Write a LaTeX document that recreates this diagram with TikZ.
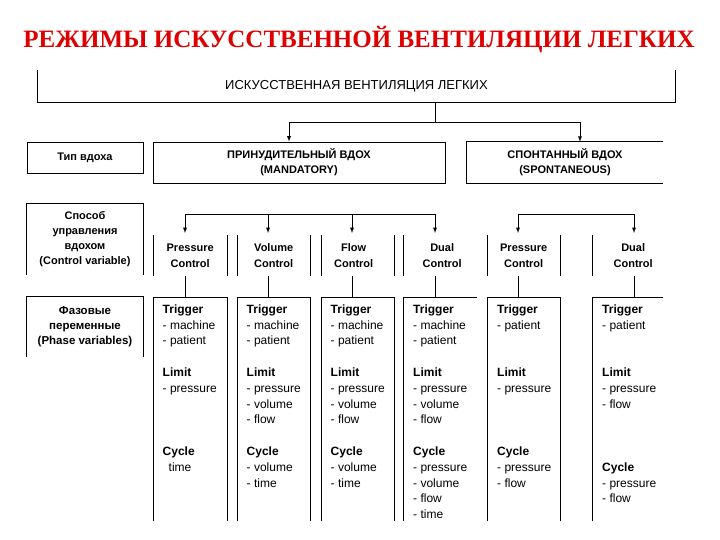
\documentclass[tikz,border=0pt]{standalone}
\usepackage{fontspec}
\setmainfont{Liberation Sans}
\newfontfamily\ttlfont{Liberation Serif}
\usetikzlibrary{positioning,calc,arrows}
\definecolor{ttlred}{RGB}{222,0,0}

\begin{document}
\begin{tikzpicture}[x=1pt,y=-1pt,>=latex,
    bdr/.style={black,line width=0.9pt},
    hdr/.style={font=\fontsize{11}{15}\selectfont\bfseries,align=center,inner sep=0pt},
    ctl/.style={font=\fontsize{11}{16}\selectfont\bfseries,align=center,inner sep=0pt,minimum height=41pt,anchor=north west},
    phs/.style={font=\fontsize{12}{15.8}\selectfont,align=left,inner sep=0pt},
    col/.style={inner sep=0pt,minimum height=224pt,anchor=north west} ]
    \useasboundingbox (0,0) rectangle (720,540);
    \fill[white] (0,0) rectangle (720,540);
    \node [font=\ttlfont\fontsize{25}{25}\selectfont\bfseries,text=ttlred,inner sep=0pt] (title) at (359,40) {РЕЖИМЫ ИСКУССТВЕННОЙ ВЕНТИЛЯЦИИ ЛЕГКИХ};
    \node [font=\fontsize{13}{13}\selectfont,minimum width=637pt,minimum height=32pt,inner sep=0pt] (ivl) at (356.5,86) {ИСКУССТВЕННАЯ ВЕНТИЛЯЦИЯ ЛЕГКИХ};
    \draw [bdr] (ivl.north west) |- (ivl.south east) -- (ivl.north east);

    \node [hdr,draw,bdr,minimum width=116pt,minimum height=31pt] (tip) at (85,157.5) {Тип вдоха};
    \node [hdr,draw,bdr,minimum width=292pt,minimum height=41pt] (mand) at (299,162.5) {ПРИНУДИТЕЛЬНЫЙ ВДОХ\\(MANDATORY)};
    \node [hdr,minimum width=196pt,minimum height=41pt] (spon) at (565,162.5) {СПОНТАННЫЙ ВДОХ\\(SPONTANEOUS)};
    \draw [bdr] (spon.north east) -- (spon.north west) -- (spon.south west) -- (spon.south east);
    \coordinate (fork) at (435,122);
    \draw [bdr] (fork |- ivl.south) -- (fork);
    \draw [bdr,->] (fork) -| ([xshift=-10pt]mand.north);
    \draw [bdr,->] (fork) -| ([xshift=15pt]spon.north);

    \node [hdr,minimum width=116pt,minimum height=71pt] (ctrl) at (85,239.5) {Способ\\управления\\вдохом\\(Control variable)};
    \draw [bdr] (ctrl.south west) |- (ctrl.north east) -- (ctrl.south east);
    \node [ctl,minimum width=74pt] (pc) at (153,235) {Pressure\\Control};
    \node [ctl,minimum width=73pt] (vc) at (237,235) {Volume\\Control};
    \node [ctl,minimum width=65pt] (fc) at (321,235) {Flow\\Control};
    \node [ctl,minimum width=78pt] (dc) at (403,235) {Dual\\Control};
    \node [ctl,minimum width=73pt] (sp) at (487,235) {Pressure\\Control};
    \node [ctl,minimum width=82pt] (sd) at (592,235) {Dual\\Control};
    \draw [bdr] (pc.north west) -- (pc.south west) (pc.north east) -- (pc.south east);
    \draw [bdr] (vc.north west) -- (vc.south west) (vc.north east) -- (vc.south east);
    \draw [bdr] (fc.north west) -- (fc.south west) ([xshift=8pt]fc.north east) -- ([xshift=8pt]fc.south east);
    \draw [bdr] (sp.north west) -- (sp.south west) (sp.north east) -- (sp.south east);
    \draw [bdr] (dc.north west) -- (dc.south west) (sd.north west) -- (sd.south west);
    \coordinate (m1) at (185,214);
    \coordinate (m2) at (268,214);
    \coordinate (m3) at (352,214);
    \coordinate (m4) at (435,214);
    \coordinate (s1) at (518,214);
    \coordinate (s2) at (634,214);
    \draw [bdr] (m1) -- (m4) (s1) -- (s2);

    \node [hdr,font=\fontsize{11.5}{15}\selectfont\bfseries,minimum width=116pt,minimum height=60pt] (phv) at (85,327) {Фазовые\\переменные\\(Phase variables)};
    \draw [bdr] (phv.south west) |- (phv.north east) -- (phv.south east);
    \node [col,minimum width=74pt] (pc-ph) at (153,297) {};
    \node [col,minimum width=73pt] (vc-ph) at (237,297) {};
    \node [col,minimum width=73pt] (fc-ph) at (321,297) {};
    \node [col,minimum width=74pt] (dc-ph) at (403,297) {};
    \node [col,minimum width=73pt] (sp-ph) at (487,297) {};
    \node [col,minimum width=71pt] (sd-ph) at (592,297) {};
    \foreach \n in {pc,vc,fc,sp}
      \draw [bdr] (\n-ph.south west) |- (\n-ph.north east) -- (\n-ph.south east);
    \foreach \n in {dc,sd}
      \draw [bdr] (\n-ph.south west) |- (\n-ph.north east);
    \foreach \a/\n in {m1/pc,m2/vc,m3/fc,m4/dc,s1/sp,s2/sd} {
      \draw [bdr,->,shorten >=2pt] (\a) -- (\a |- \n.north);
      \draw [bdr] (\a |- \n.south) -- (\a |- \n-ph.north);
    }

    \node [phs,below right=7.5pt and 9.5pt of pc-ph.north west] (pc-txt) {\textbf{Trigger}\\- machine\\- patient\\[15.8pt]\textbf{Limit}\\- pressure\\[47.4pt]\textbf{Cycle}\\\hspace*{6pt}time};
    \node [phs,below right=7.5pt and 9.5pt of vc-ph.north west] (vc-txt) {\textbf{Trigger}\\- machine\\- patient\\[15.8pt]\textbf{Limit}\\- pressure\\- volume\\- flow\\[15.8pt]\textbf{Cycle}\\- volume\\- time};
    \node [phs,below right=7.5pt and 9.5pt of fc-ph.north west] (fc-txt) {\textbf{Trigger}\\- machine\\- patient\\[15.8pt]\textbf{Limit}\\- pressure\\- volume\\- flow\\[15.8pt]\textbf{Cycle}\\- volume\\- time};
    \node [phs,below right=7.5pt and 10pt of dc-ph.north west] (dc-txt) {\textbf{Trigger}\\- machine\\- patient\\[15.8pt]\textbf{Limit}\\- pressure\\- volume\\- flow\\[15.8pt]\textbf{Cycle}\\- pressure\\- volume\\- flow\\- time};
    \node [phs,below right=7.5pt and 10pt of sp-ph.north west] (sp-txt) {\textbf{Trigger}\\- patient\\[31.6pt]\textbf{Limit}\\- pressure\\[47.4pt]\textbf{Cycle}\\- pressure\\- flow};
    \node [phs,below right=7.5pt and 10pt of sd-ph.north west] (sd-txt) {\textbf{Trigger}\\- patient\\[31.6pt]\textbf{Limit}\\- pressure\\- flow\\[47.4pt]\textbf{Cycle}\\- pressure\\- flow};
\end{tikzpicture}
\end{document}
